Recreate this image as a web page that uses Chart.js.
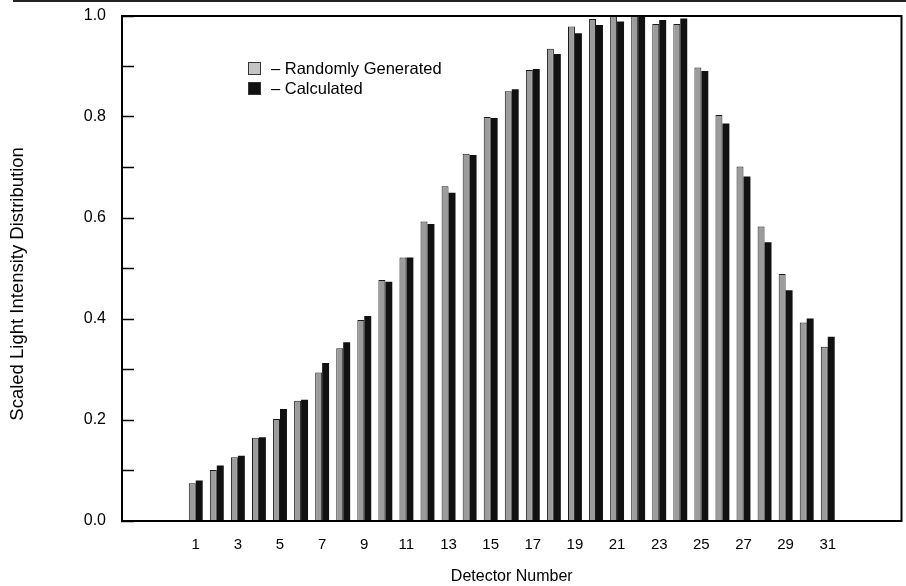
<!DOCTYPE html>
<html>
<head>
<meta charset="utf-8">
<script src="https://cdn.jsdelivr.net/npm/chart.js@4.4.0/dist/chart.umd.min.js"></script>
<style>
  body { margin: 0; background: #fff; }
  #wrap { position: relative; width: 906px; height: 586px; }
  #legendBox { position: absolute; left: 248px; top: 58px; font-family: 'Liberation Sans', Arial, sans-serif; font-size: 16.5px; color: #000; }
  .row { display: flex; align-items: center; height: 20px; }
  .sw { width: 11px; height: 11px; margin-right: 10px; border: 1px solid #333; }
</style>
</head>
<body>
<div id="wrap">
  <canvas id="myChart" width="906" height="586"></canvas>
  <div id="legendBox">
    <div class="row"><span class="sw" style="background:#c4c4c4"></span>– Randomly Generated</div>
    <div class="row"><span class="sw" style="background:#111"></span>– Calculated</div>
  </div>
</div>
<script>
// 검출기 번호와 값
const detectors = [1,2,3,4,5,6,7,8,9,10,11,12,13,14,15,16,17,18,19,20,21,22,23,24,25,26,27,28,29,30,31];
const randomGen = [0.075,0.101,0.126,0.165,0.202,0.238,0.294,0.342,0.398,0.477,0.522,0.593,0.663,0.727,0.800,
                   0.851,0.893,0.935,0.979,0.994,1.0,1.0,0.984,0.984,0.898,0.804,0.702,0.583,0.489,0.393,0.345];
const calculated = [0.080,0.110,0.129,0.166,0.222,0.240,0.313,0.354,0.406,0.474,0.522,0.588,0.650,0.725,0.798,
                    0.855,0.895,0.925,0.966,0.982,0.989,1.0,0.992,0.995,0.891,0.787,0.682,0.552,0.457,0.401,0.365];
const yTicks = [0.0, 0.2, 0.4, 0.6, 0.8, 1.0];

// 축 양쪽의 빈 칸 (-2..0, 32..34)
const padLeft = [-2, -1, 0];
const padRight = [32, 33, 34];
const labels = [...padLeft, ...detectors, ...padRight].map(String);
const blanksL = padLeft.map(() => null);
const blanksR = padRight.map(() => null);

Chart.defaults.font.family = "'Liberation Sans', Arial, sans-serif";
Chart.defaults.color = '#000';

// 플롯 테두리
const frame = {
  id: 'frame',
  afterDraw(chart) {
    const {ctx, chartArea: a} = chart;
    ctx.save();
    ctx.strokeStyle = '#000';
    ctx.lineWidth = 2;
    ctx.strokeRect(a.left, a.top, a.right - a.left, a.bottom - a.top);
    ctx.fillStyle = '#222';
    ctx.fillRect(13, 0, 893, 2);
    ctx.restore();
  }
};

const ctx = document.getElementById('myChart');
const myChart = new Chart(ctx, {
  type: 'bar',
  data: {
    labels: labels,
    datasets: [{
      label: 'Randomly Generated',
      data: [...blanksL, ...randomGen, ...blanksR],
      backgroundColor: '#9c9c9c',
      borderColor: '#1a1a1a',
      borderWidth: 1,
      borderSkipped: 'bottom'
    },
    {
      label: 'Calculated',
      data: [...blanksL, ...calculated, ...blanksR],
      backgroundColor: '#111',
      borderWidth: 0
    }]
  },
  options: {
    responsive: false,
    animation: false,
    layout: { padding: { top: 16, right: 3, left: 0, bottom: 0 } },
    datasets: { bar: { categoryPercentage: 0.66, barPercentage: 1.0 } },
    scales: {
      x: {
        grid: { display: true, drawOnChartArea: false, drawTicks: false },
        border: { display: true, width: 2, color: '#000' },
        ticks: {
          autoSkip: false,
          maxRotation: 0,
          padding: 15,
          font: { size: 15 },
          callback: function (value) {
            const n = Number(this.getLabelForValue(value));
            return (n >= 1 && n <= 31 && n % 2 === 1) ? String(n) : '';
          }
        },
        title: {
          display: true,
          text: 'Detector Number',
          font: { size: 16 },
          padding: { top: 0, bottom: 0 }
        },
        afterFit: (scale) => { scale.height = 65; }
      },
      y: {
        min: 0,
        max: 1,
        ticks: {
          stepSize: 0.1,
          padding: 28,
          font: { size: 16 },
          callback: (v) => {
            const hit = yTicks.find(t => Math.abs(t - v) < 1e-6);
            return hit !== undefined ? hit.toFixed(1) : '';
          }
        },
        grid: { drawOnChartArea: false, tickLength: -12, tickWidth: 1.5, tickColor: '#000' },
        border: { display: true, width: 2, color: '#000' },
        title: {
          display: true,
          text: 'Scaled Light Intensity Distribution' + '\u00a0'.repeat(6),
          font: { size: 18.5 },
          padding: { top: 7, bottom: 0 }
        },
        afterFit: (scale) => {
          scale.width = 122;
          scale.paddingTop = 0;
          scale.paddingBottom = 0;
        }
      }
    },
    plugins: {
      legend: { display: false },
      tooltip: { enabled: false }
    }
  },
  plugins: [frame]
});
</script>
</body>
</html>
